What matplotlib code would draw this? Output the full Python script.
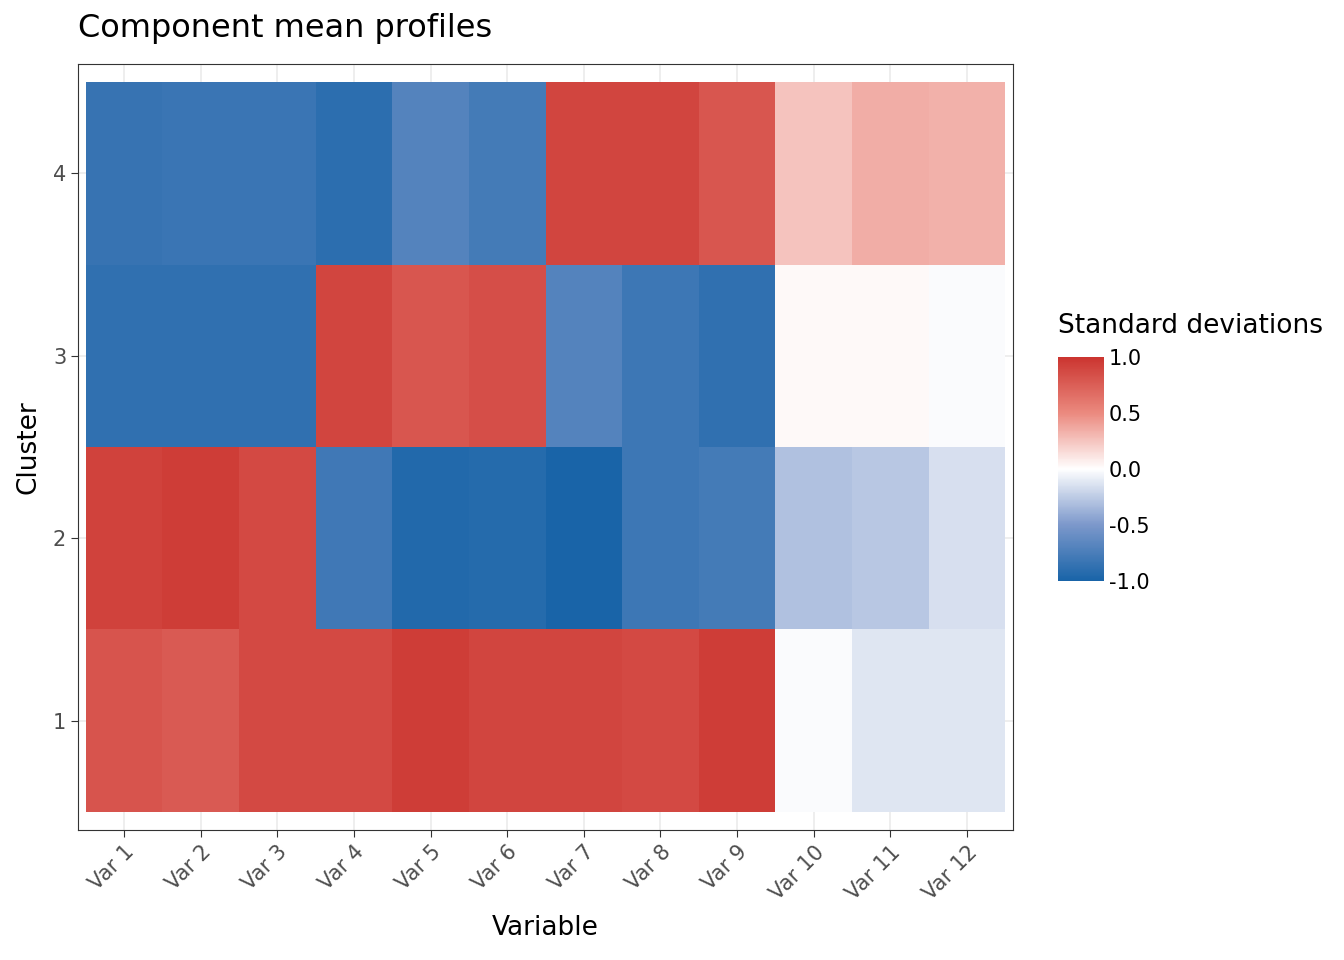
import matplotlib
matplotlib.use("Agg")
import matplotlib.pyplot as plt
import numpy as np
from matplotlib.colors import LinearSegmentedColormap

variables = [f"Var {i}" for i in range(1, 13)]
clusters = [1, 2, 3, 4]
vals = {
    1: [0.82, 0.78, 0.88, 0.88, 0.95, 0.90, 0.90, 0.88, 0.95, -0.02, -0.12, -0.12],
    2: [0.92, 0.95, 0.88, -0.80, -0.95, -0.93, -1.00, -0.82, -0.78, -0.30, -0.27, -0.15],
    3: [-0.88, -0.88, -0.88, 0.90, 0.80, 0.85, -0.70, -0.82, -0.88, 0.03, 0.03, -0.02],
    4: [-0.85, -0.83, -0.83, -0.90, -0.70, -0.78, 0.90, 0.90, 0.80, 0.25, 0.35, 0.33],
}
Z = np.array([vals[c] for c in clusters])

cmap = LinearSegmentedColormap.from_list("rdbu", [
    (0.0, "#1964A8"), (0.25, "#7C98CB"), (0.5, "#FFFFFF"),
    (0.75, "#EB8A7F"), (1.0, "#CB3530")])

fig = plt.figure(figsize=(13.44, 9.6), dpi=100)
ax = fig.add_axes([78/1344, 1-830/960, 935/1344, 766/960])
x = np.arange(1, 13)
y = np.arange(1, 5)
for v in x:
    ax.axvline(v, color="#EBEBEB", lw=1.2, zorder=0)
for v in y:
    ax.axhline(v, color="#EBEBEB", lw=1.2, zorder=0)
mesh = ax.pcolormesh(np.arange(0.5, 13, 1), np.arange(0.5, 5, 1), Z,
                     cmap=cmap, vmin=-1, vmax=1, shading="flat", zorder=1)
ax.set_xlim(0.4, 12.6)
ax.set_ylim(0.4, 4.6)
ax.set_xticks(x)
ax.set_xticklabels(variables, rotation=45, ha="right", rotation_mode="anchor",
                   fontsize=15, color="#4D4D4D")
ax.set_yticks(y)
ax.set_yticklabels([str(c) for c in clusters], fontsize=15, color="#4D4D4D")
ax.tick_params(length=5, color="#333333")
for s in ax.spines.values():
    s.set_color("#333333")
ax.set_xlabel("Variable", fontsize=19, labelpad=8)
ax.set_ylabel("Cluster", fontsize=19, labelpad=8)
fig.text(78/1344, 1-28/960, "Component mean profiles", fontsize=23, va="center")

cax = fig.add_axes([1058/1344, 1-583/960, 46/1344, 228/960])
cb = fig.colorbar(mesh, cax=cax, ticks=[-1, -0.5, 0, 0.5, 1])
cb.ax.set_yticklabels(["-1.0", "-0.5", "0.0", "0.5", "1.0"], fontsize=15)
cb.outline.set_visible(False)
cb.ax.tick_params(length=0)
cb.ax.set_ylim(-1.02, 1.02)
fig.text(1058/1344, 1-326/960, "Standard deviations", fontsize=19, va="center")
fig.savefig("out.png", dpi=100)
